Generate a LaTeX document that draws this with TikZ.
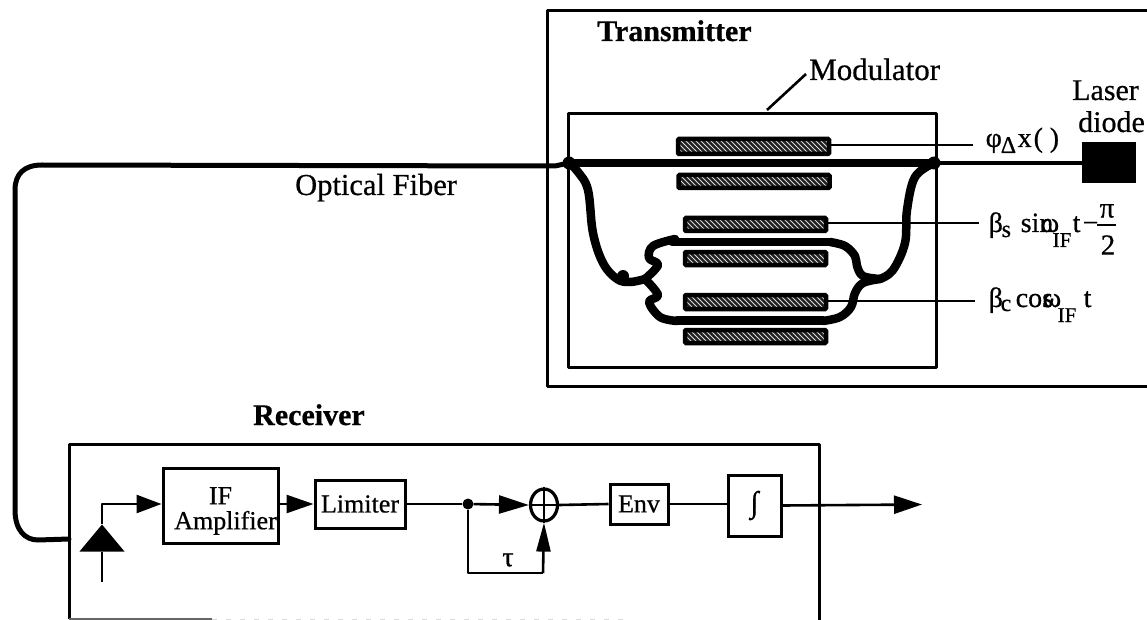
\documentclass[tikz,border=0pt]{standalone}
\usepackage{fontspec}
\setmainfont{Liberation Serif}[FakeBold=0.6,BoldFeatures={FakeBold=0.6}]
\usetikzlibrary{arrows.meta,patterns,calc,shapes.geometric}
\newcommand{\fs}[1]{\fontsize{#1}{#1}\selectfont}
% place a piece of text at an offset from the start of the label
\newcommand{\pl}[4]{\rlap{\hskip#1\raisebox{#2}{\fs{#3}#4}}}
\pgfdeclarepatternformonly{sparsehatch}{\pgfqpoint{-1pt}{-1pt}}{\pgfqpoint{6pt}{6pt}}{\pgfqpoint{5pt}{5pt}}{%
  \pgfsetlinewidth{1pt}%
  \pgfpathmoveto{\pgfqpoint{0pt}{5pt}}%
  \pgfpathlineto{\pgfqpoint{5pt}{0pt}}%
  \pgfusepath{stroke}}
\tikzset{
 wire/.style={line width=2.6pt,line join=round},
 frame/.style={line width=3pt,line join=round},
 fiber/.style={line width=8.5pt,line cap=round,line join=round},
 thinfiber/.style={line width=5pt,line cap=round,line join=round},
 blockbox/.style={draw,line width=3pt,inner sep=0pt,fill=white,align=center,font=\fs{26}},
 lab/.style={inner sep=0pt,anchor=base west,font=\fs{30}},
 title/.style={inner sep=0pt,anchor=base west,font=\fs{30}\bfseries},
 hatchbar/.style={draw=black,line width=4.5pt,rounded corners=1pt,inner sep=0pt,preaction={fill=black!88},pattern=sparsehatch,pattern color=white!85!black},
 head/.style={-{Triangle[length=#1,width=18pt]}},
 dot/.style={circle,fill=black,inner sep=0pt,minimum size=11pt},
}
\begin{document}
\begin{tikzpicture}[x=1pt,y=-1pt]
\useasboundingbox (0,0) rectangle (1147,620);
% transmitter frame
\coordinate (tTR) at (1147,11);
\coordinate (tTL) at (547,11);
\coordinate (tBL) at (547,386);
\coordinate (tBR) at (1147,386);
\draw[frame] (tTR) -- (tTL) -- (tBL) -- (tBR);
\node[title] (ttitle) at (597,41) {Transmitter};
% modulator
\node[draw,frame,minimum width=368pt,minimum height=254pt,inner sep=0pt] (mod) at (752.5,240.5) {};
\node[lab,font=\fs{31}] (modlab) at (809,80) {Modulator};
\coordinate (modtick) at (767,110);
\coordinate (modtop) at (806,74);
\draw[line width=2.6pt] (modtick) -- (modtop);
% bars
\node[hatchbar,minimum width=151pt,minimum height=15pt] (b1) at (753.5,146.5) {};
\node[hatchbar,minimum width=151pt,minimum height=13pt] (b2) at (754,181.5) {};
\node[hatchbar,minimum width=141pt,minimum height=13pt] (b3) at (755.5,224.5) {};
\node[hatchbar,minimum width=141pt,minimum height=13pt] (b4) at (755.5,258.5) {};
\node[hatchbar,minimum width=141pt,minimum height=14pt] (b5) at (755.5,302) {};
\node[hatchbar,minimum width=141pt,minimum height=13pt] (b6) at (755.5,336.5) {};
% laser
\node[fill=black,minimum width=54pt,minimum height=41pt,inner sep=0pt] (laser) at (1109,162.5) {};
\node[lab] (laserlab) at (1072,100) {Laser};
\node[lab] (diodelab) at (1078,132) {diode};
% electrode labels
\node[lab,font=\fs{28}] (philab) at (985,147) {\pl{0pt}{0pt}{28}{φ}\pl{15pt}{-6pt}{24}{Δ}\pl{32pt}{0pt}{28}{x}\pl{48pt}{0pt}{28}{(}\pl{64pt}{0pt}{28}{)}};
\node[lab,font=\fs{28}] (slab) at (988,232) {\pl{0pt}{0pt}{28}{β}\pl{13pt}{-5pt}{24}{s}\pl{32pt}{0pt}{28}{sin}\pl{52pt}{0pt}{28}{ω}\pl{64pt}{-15pt}{21}{IF}\pl{84pt}{0pt}{28}{t}\pl{94pt}{0pt}{28}{−}};
\node[lab,font=\fs{28}] (clab) at (988,307) {\pl{0pt}{0pt}{28}{β}\pl{12pt}{-4pt}{24}{c}\pl{27pt}{0pt}{28}{cos}\pl{54pt}{0pt}{28}{ω}\pl{69pt}{-15pt}{21}{IF}\pl{95pt}{0pt}{28}{t}};
\node[inner sep=0pt,font=\fs{29}] (pinum) at (1107,211) {π};
\node[inner sep=0pt,font=\fs{29}] (pidenom) at (1108,245) {2};
\coordinate (fracL) at (1097,225);
\coordinate (fracR) at (1116,225);
\draw[line width=2pt] (fracL) -- (fracR);
\coordinate (phiend) at (973,145);
\coordinate (send) at (979,223);
\coordinate (cend) at (975,301);
% fibre
\coordinate (fL) at (569,163);
\coordinate (fR) at (934,163);
\coordinate (jL) at (645,279);
\coordinate (jR) at (880,279);
\draw[line width=4pt] (fR) -- (laser.west |- fR);
\draw[fiber] (fL) -- (fR);
\fill (fL) circle (6.5pt);
\fill (fR) circle (6.5pt);
\draw[fiber] plot[smooth,tension=0.6] coordinates {(fL) (578,172) (588,190) (593,233) (603,263) (617,279) (630,282) (jL)};
\fill (623,276) circle (6pt);
\draw[fiber] plot[smooth,tension=0.6] coordinates {(fR) (915,177) (907,210) (905,243) (893,270) (jR)};
\draw[fiber] plot[smooth,tension=0.6] coordinates {(jL) (658,265) (649,258) (653,246) (675,239)};
\draw[fiber] (672,242) -- (830,242);
\draw[fiber] plot[smooth,tension=0.6] coordinates {(830,242) (845,246) (855,256) (857,266) (863,276) (jR)};
\draw[fiber] plot[smooth,tension=0.6] coordinates {(jL) (658,295) (649,302) (660,317) (677,321)};
\draw[fiber] (677,320.5) -- (823,320.5);
\draw[fiber] plot[smooth,tension=0.6] coordinates {(823,321) (840,317) (851,307) (855,293) (863,283) (jR)};
\draw[wire] (b1.east |- phiend) -- (phiend);
\draw[wire] (b3.east |- send) -- (send);
\draw[wire] (b5.east |- cend) -- (cend);
% fibre to receiver
\coordinate (rxin) at (69,539);
\draw[thinfiber] (fL) -- (555,166) -- (42,165) .. controls (24,165) and (15,174) .. (15,190) -- (15,510) .. controls (15,530) and (25,540) .. (38,540) -- (rxin);
\node[lab,font=\fs{30.5}] (oflab) at (295,195) {Optical Fiber};
% receiver
\node[title] (rtitle) at (253,425) {Receiver};
\coordinate (rBL) at (69,619);
\coordinate (rTL) at (69,444);
\coordinate (rTR) at (819,444);
\coordinate (rBR) at (819,620);
\draw[frame] (rBL) -- (rTL) -- (rTR) -- (rBR);
\coordinate (rBM) at (212,619);
\coordinate (rBF) at (625,619);
\draw[line width=2pt,black!60] (rBL) -- (rBM);
\draw[line width=1pt,black!15,dash pattern=on 5pt off 9pt] (rBM) -- (rBF);
\node[blockbox,minimum width=115pt,minimum height=75pt] (amp) at (220.5,505.5) {\rule{0pt}{28pt}IF\\[-1pt]\hspace*{10pt}Amplifier};
\node[blockbox,minimum width=90pt,minimum height=48pt] (lim) at (360,504) {Limiter};
\node[dot] (tap) at (468,504) {};
\node[draw,line width=3.2pt,ellipse,inner sep=0pt,minimum width=27pt,minimum height=32pt] (sum) at (544,505) {};
\draw[wire] (sum.north) -- (sum.south);
\draw[wire] (sum.west) -- (sum.east);
\node[blockbox,minimum width=58pt,minimum height=40pt] (env) at (639,504) {Env};
\node[blockbox,minimum width=53pt,minimum height=61pt,font=\fs{30}] (integ) at (754.5,505.5) {∫};
\node[isosceles triangle,isosceles triangle apex angle=80,isosceles triangle stretches,shape border rotate=90,fill=black,inner sep=0pt,minimum width=45pt,minimum height=27pt] (pd) at (102,541) {};
\coordinate (pdin) at (102,582);
\coordinate (pdup) at (102,504);
\coordinate (out) at (922,504.5);
\coordinate (fbL) at (468,573);
\coordinate (fbR) at (543,573);
\node[inner sep=0pt,font=\fs{28}] (taulab) at (508,560) {τ};
\draw[wire] (pd.south) -- (pdin);
\draw[wire,head=25pt] (pd.north) -- (pdup) -- (amp.west |- pdup);
\draw[wire,head=27pt] (amp.east |- lim) -- (lim.west);
\draw[wire] (lim.east) -- (tap);
\draw[wire,head=30pt] (tap) -- (sum.west);
\draw[wire] (sum.east) -- (env.west);
\draw[wire] (env.east) -- (integ.west |- env);
\draw[wire,head=28pt] (integ.east) -- (out);
\draw[wire] (tap) -- (fbL) -- (fbR);
\draw[wire,-{Triangle[length=29pt,width=14pt]}] (fbR) -- (sum.south);
\end{tikzpicture}
\end{document}
